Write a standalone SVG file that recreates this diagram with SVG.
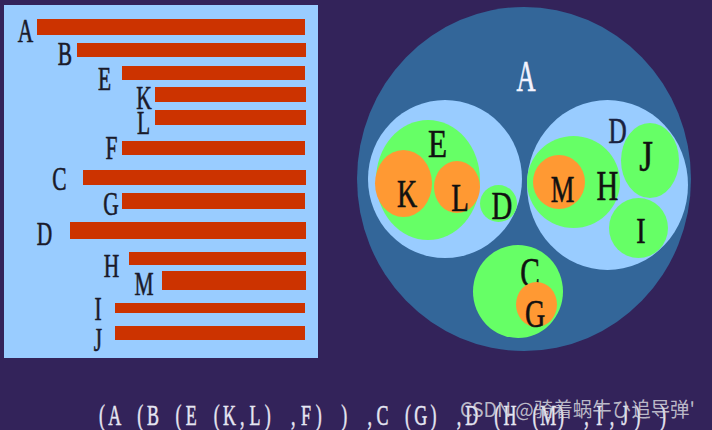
<svg xmlns="http://www.w3.org/2000/svg" width="712" height="430" viewBox="0 0 712 430">
<style>
.bar{fill:#cc3300}
.lab{font-family:"Liberation Serif",serif;font-size:33px;fill:#1a1a2a;stroke:#1a1a2a;stroke-width:0.6;text-anchor:middle}
.cl{font-family:"Liberation Serif",serif;fill:#111;stroke:#111;stroke-width:0.6;text-anchor:middle}
.outer{fill:#336699}
.lb{fill:#99ccff}
.gr{fill:#66ff66}
.or{fill:#ff9933}
.bt{font-family:"Liberation Serif",serif;font-size:29px;fill:#e6e6f2;stroke:#e6e6f2;stroke-width:0.5;text-anchor:middle}
.wm{font-family:"Noto Sans CJK SC","Liberation Sans",sans-serif;font-size:20px;fill:#d4d4dc;fill-opacity:0.85}
</style>
<rect width="712" height="430" fill="#33235a"/>

<g id="tree-bars">
<rect x="4" y="5" width="314" height="353" fill="#99ccff"/>
<g id="bar-A"><rect class="bar" x="37" y="19" width="268" height="16"/><text class="lab" transform="translate(25.5,42) scale(0.65,1)">A</text></g>
<g id="bar-B"><rect class="bar" x="77" y="43" width="229" height="14"/><text class="lab" transform="translate(65,65) scale(0.65,1)">B</text></g>
<g id="bar-E"><rect class="bar" x="122" y="66" width="183" height="14"/><text class="lab" transform="translate(104.5,90) scale(0.65,1)">E</text></g>
<g id="bar-K"><rect class="bar" x="155" y="87" width="151" height="15"/><text class="lab" transform="translate(144,109) scale(0.65,1)">K</text></g>
<g id="bar-L"><rect class="bar" x="155" y="110" width="151" height="15"/><text class="lab" transform="translate(143.5,134) scale(0.65,1)">L</text></g>
<g id="bar-F"><rect class="bar" x="122" y="141" width="183" height="14"/><text class="lab" transform="translate(111.5,159) scale(0.65,1)">F</text></g>
<g id="bar-C"><rect class="bar" x="83" y="170" width="223" height="15"/><text class="lab" transform="translate(59.5,190) scale(0.65,1)">C</text></g>
<g id="bar-G"><rect class="bar" x="122" y="193" width="183" height="16"/><text class="lab" transform="translate(111,215) scale(0.65,1)">G</text></g>
<g id="bar-D"><rect class="bar" x="70" y="222" width="236" height="17"/><text class="lab" transform="translate(44.5,245) scale(0.65,1)">D</text></g>
<g id="bar-H"><rect class="bar" x="129" y="252" width="177" height="13"/><text class="lab" transform="translate(111.5,277) scale(0.65,1)">H</text></g>
<g id="bar-M"><rect class="bar" x="162" y="271" width="144" height="19"/><text class="lab" transform="translate(144,295) scale(0.65,1)">M</text></g>
<g id="bar-I"><rect class="bar" x="115" y="303" width="190" height="10"/><text class="lab" transform="translate(98,320) scale(0.65,1)">I</text></g>
<g id="bar-J"><rect class="bar" x="115" y="326" width="190" height="14"/><text class="lab" transform="translate(98,351) scale(0.65,1)">J</text></g>
</g>

<g id="nest">
<g id="circle-A"><ellipse class="outer" cx="524" cy="179" rx="167" ry="172"/>
<text class="cl" transform="translate(526,91) scale(0.6,1)" style="font-size:44px;fill:#f4f4ff;stroke:#f4f4ff">A</text></g>
<g id="circle-B"><ellipse class="lb" cx="445" cy="179" rx="77" ry="79"/></g>
<g id="circle-E"><ellipse class="gr" cx="428" cy="180" rx="52" ry="60"/>
<text class="cl" transform="translate(437.5,157) scale(0.78,1)" style="font-size:40px">E</text></g>
<g id="circle-K"><ellipse class="or" cx="403.5" cy="183.5" rx="28.5" ry="33.5"/>
<text class="cl" transform="translate(407,207) scale(0.7,1)" style="font-size:40px">K</text></g>
<g id="circle-L"><ellipse class="or" cx="457" cy="187" rx="23" ry="26"/>
<text class="cl" transform="translate(460,211) scale(0.72,1)" style="font-size:40px">L</text></g>
<g id="circle-F"><ellipse class="gr" cx="498.5" cy="203.5" rx="18.5" ry="18.5"/>
<text class="cl" transform="translate(502,219) scale(0.72,1)" style="font-size:40px">D</text></g>
<g id="circle-D"><ellipse class="lb" cx="607.5" cy="185" rx="80.5" ry="85"/>
<text class="cl" transform="translate(617.5,143) scale(0.72,1)" style="font-size:35px;fill:#1a2240;stroke:#1a2240">D</text></g>
<g id="circle-H"><ellipse class="gr" cx="573.5" cy="182" rx="46.5" ry="46"/>
<text class="cl" transform="translate(607.5,200) scale(0.72,1)" style="font-size:42px">H</text></g>
<g id="circle-M"><ellipse class="or" cx="559" cy="182" rx="26" ry="27"/>
<text class="cl" transform="translate(562.5,202) scale(0.7,1)" style="font-size:38px">M</text></g>
<g id="circle-J"><ellipse class="gr" cx="650" cy="160.5" rx="29" ry="37.5"/>
<text class="cl" transform="translate(646,171) scale(0.8,1)" style="font-size:44px">J</text></g>
<g id="circle-I"><ellipse class="gr" cx="638.5" cy="228" rx="29.5" ry="30"/>
<text class="cl" transform="translate(641,243) scale(0.8,1)" style="font-size:35px">I</text></g>
<g id="circle-C"><ellipse class="gr" cx="518" cy="291.5" rx="45" ry="46.5"/>
<text class="cl" transform="translate(530,287) scale(0.7,1)" style="font-size:42px">C</text></g>
<g id="circle-G"><ellipse class="or" cx="536.5" cy="304.5" rx="20.5" ry="22.5"/>
<text class="cl" transform="translate(535,327) scale(0.7,1)" style="font-size:40px">G</text></g>
</g>

<g id="notation">
<text class="bt" transform="translate(0,425) scale(0.62,1)" x="164.52 185.08 205.65 226.21 246.77 267.34 287.90 308.47 329.03 349.60 370.16 390.73 411.29 431.85 452.42 472.98 493.55 514.11 534.68 555.24 575.81 596.37 616.94 637.50 658.06 678.63 699.19 719.76 740.32 760.89 781.45 802.02 822.58 843.15 863.71 884.27 904.84 925.40 945.97 966.53 987.10 1007.66 1028.23 1048.79 1069.35" y="0">(A (B (E (K,L) ,F) ) ,C (G) ,D (H (M) ,I,J) )</text>
<text class="wm" x="460" y="417" textLength="235" lengthAdjust="spacingAndGlyphs">CSDN @骑着蜗牛ひ追导弹'</text>
</g>
</svg>
